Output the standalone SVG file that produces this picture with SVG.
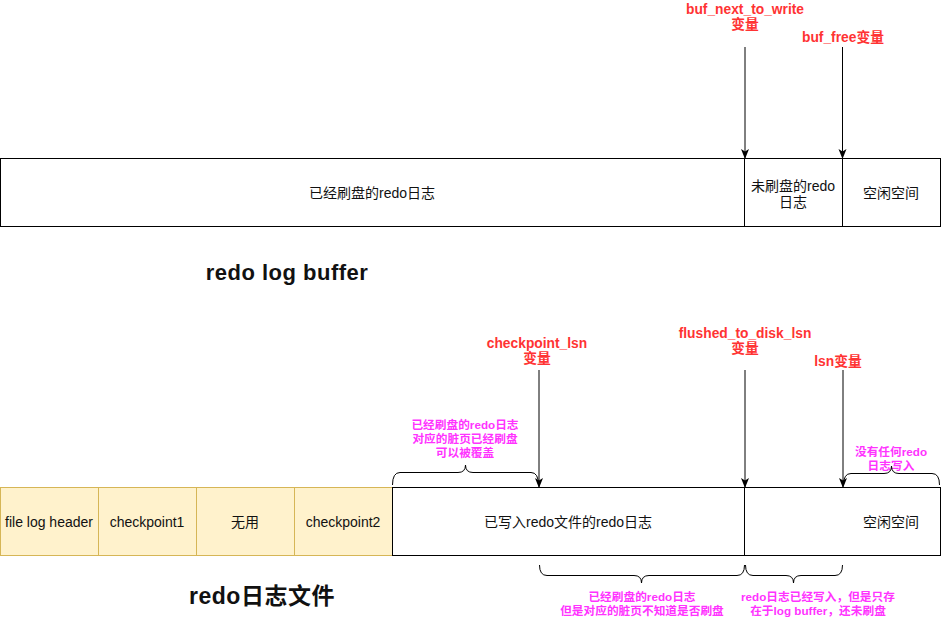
<svg xmlns="http://www.w3.org/2000/svg" width="942" height="619" viewBox="0 0 942 619">
<defs>
<marker id="ah" markerWidth="10" markerHeight="10" refX="9" refY="5" orient="auto" markerUnits="userSpaceOnUse">
<path d="M0,1 L10,5 L0,9 L2.5,5 Z" fill="#000"/>
</marker>
<style>
.box{fill:#fff;stroke:#000;stroke-width:1}
.ybox{fill:#fff2cc;stroke:#d6b656;stroke-width:1}
.t{font-family:"Liberation Sans","Noto Sans CJK SC",sans-serif;font-size:14px;fill:#111;text-anchor:middle}
.red{font-family:"Liberation Sans","Noto Sans CJK SC",sans-serif;font-size:13.8px;font-weight:bold;fill:#ff3333;text-anchor:middle}
.mag{font-family:"Liberation Sans","Noto Sans CJK SC",sans-serif;font-size:11.7px;font-weight:bold;fill:#ff33ff;text-anchor:middle}
.title{font-family:"Liberation Sans","Noto Sans CJK SC",sans-serif;font-size:22px;font-weight:bold;fill:#111;text-anchor:middle;letter-spacing:0.5px}
.arr{stroke:#000;stroke-width:1;fill:none;marker-end:url(#ah)}
.br{stroke:#000;stroke-width:1;fill:none}
</style>
</defs>
<rect width="942" height="619" fill="#fff"/>

<g id="buffer-flushed">
<rect class="box" x="0.5" y="158.5" width="744" height="68"/>
<text class="t" x="372" y="198">已经刷盘的redo日志</text>
</g>
<g id="buffer-unflushed">
<rect class="box" x="744.5" y="158.5" width="98" height="68"/>
<text class="t" x="793" y="191">未刷盘的redo</text>
<text class="t" x="793" y="207">日志</text>
</g>
<g id="buffer-free">
<rect class="box" x="842.5" y="158.5" width="98" height="68"/>
<text class="t" x="891" y="198">空闲空间</text>
</g>
<g id="title-buffer">
<text class="title" x="287" y="280">redo log buffer</text>
</g>

<g id="label-buf-next">
<text class="red" x="745" y="14">buf_next_to_write</text>
<text class="red" x="745" y="29">变量</text>
</g>
<g id="label-buf-free">
<text class="red" x="843" y="42">buf_free变量</text>
</g>

<g id="cell-header">
<rect class="ybox" x="0.5" y="487.5" width="98" height="68"/>
<text class="t" x="49" y="527">file log header</text>
</g>
<g id="cell-cp1">
<rect class="ybox" x="98.5" y="487.5" width="98" height="68"/>
<text class="t" x="147" y="527">checkpoint1</text>
</g>
<g id="cell-unused">
<rect class="ybox" x="196.5" y="487.5" width="98" height="68"/>
<text class="t" x="245" y="527">无用</text>
</g>
<g id="cell-cp2">
<rect class="ybox" x="294.5" y="487.5" width="98" height="68"/>
<text class="t" x="343" y="527">checkpoint2</text>
</g>
<g id="file-written">
<rect class="box" x="392.5" y="487.5" width="352" height="68"/>
<text class="t" x="568" y="527">已写入redo文件的redo日志</text>
</g>
<g id="file-free">
<rect class="box" x="744.5" y="487.5" width="196" height="68"/>
<text class="t" x="891" y="527">空闲空间</text>
</g>
<g id="title-file">
<text class="title" x="262" y="604" style="font-size:23px">redo日志文件</text>
</g>

<g id="label-checkpoint">
<text class="red" x="537" y="348">checkpoint_lsn</text>
<text class="red" x="537" y="363">变量</text>
</g>
<g id="label-flushed">
<text class="red" x="745" y="338">flushed_to_disk_lsn</text>
<text class="red" x="745" y="353">变量</text>
</g>
<g id="label-lsn">
<text class="red" x="838" y="366">lsn变量</text>
</g>

<g id="note-overwrite">
<text class="mag" x="465" y="429">已经刷盘的redo日志</text>
<text class="mag" x="465" y="443">对应的脏页已经刷盘</text>
<text class="mag" x="465" y="457">可以被覆盖</text>
</g>
<g id="note-empty">
<text class="mag" x="891" y="456">没有任何redo</text>
<text class="mag" x="891" y="470">日志写入</text>
</g>
<g id="note-unknown">
<text class="mag" x="642" y="601">已经刷盘的redo日志</text>
<text class="mag" x="642" y="615">但是对应的脏页不知道是否刷盘</text>
</g>
<g id="note-buffer-only">
<text class="mag" x="818" y="601">redo日志已经写入，但是只存</text>
<text class="mag" x="818" y="615">在于log buffer，还未刷盘</text>
</g>

<g id="connectors">
<line class="arr" x1="745" y1="47" x2="745" y2="158"/>
<line class="arr" x1="842.5" y1="47" x2="842.5" y2="158"/>
<line class="arr" x1="539" y1="370" x2="539" y2="487"/>
<line class="arr" x1="745" y1="370" x2="745" y2="487"/>
<line class="arr" x1="843" y1="370" x2="843" y2="487"/>
<path class="br" d="M392.5,485 Q392.5,472.5 400,472.5 L458,472.5 Q465.5,472.5 465.5,465 Q465.5,472.5 473,472.5 L531,472.5 Q538.5,472.5 538.5,485"/>
<path class="br" d="M843.5,485 Q843.5,473.5 851,473.5 L884,473.5 Q891.5,473.5 891.5,466 Q891.5,473.5 899,473.5 L932,473.5 Q939.5,473.5 939.5,485"/>
<path class="br" d="M539.5,565 Q539.5,575.5 547,575.5 L634,575.5 Q641.5,575.5 641.5,583 Q641.5,575.5 649,575.5 L737,575.5 Q744.5,575.5 744.5,565"/>
<path class="br" d="M745.5,565 Q745.5,575.5 753,575.5 L786,575.5 Q793.5,575.5 793.5,583 Q793.5,575.5 801,575.5 L835,575.5 Q842.5,575.5 842.5,565"/>
</g>
</svg>
